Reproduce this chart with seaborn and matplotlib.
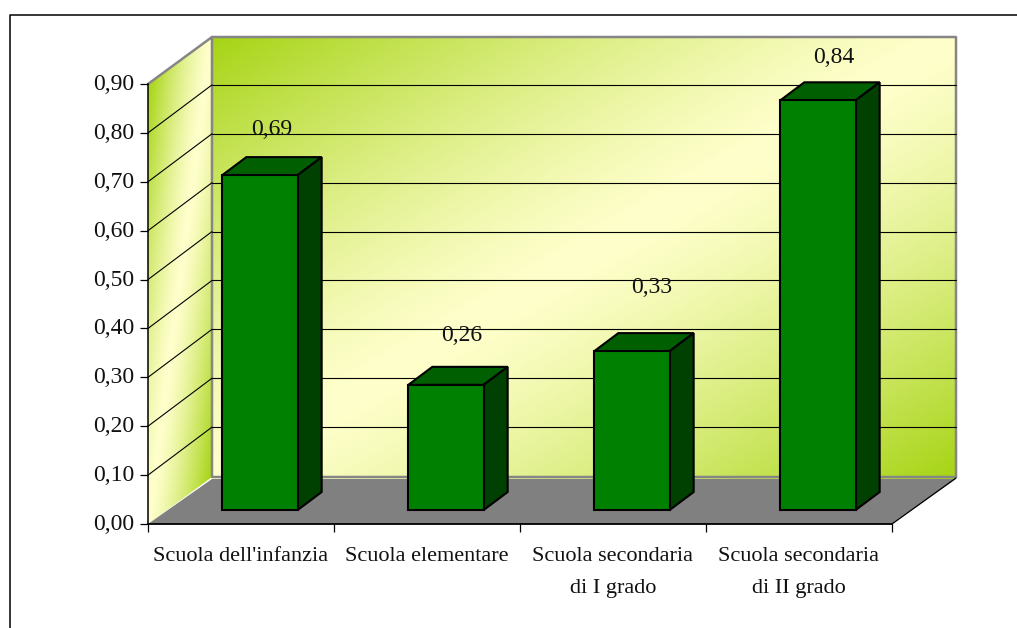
import numpy as np
import pandas as pd
import matplotlib.pyplot as plt
import seaborn as sns
from matplotlib.patches import Polygon
from matplotlib.transforms import Affine2D, IdentityTransform

# Values
categories = ["Scuola dell'infanzia", "Scuola elementare", "Scuola secondaria\ndi I grado", "Scuola secondaria\ndi II grado"]
values = [0.685, 0.256, 0.325, 0.838]
value_labels = ["0,69", "0,26", "0,33", "0,84"]
y_ticks = [0.0, 0.1, 0.2, 0.3, 0.4, 0.5, 0.6, 0.7, 0.8, 0.9]
y_tick_labels = ["0,00", "0,10", "0,20", "0,30", "0,40", "0,50", "0,60", "0,70", "0,80", "0,90"]

# label offsets from the top of each bar on the axis plane, in pixels
label_dx = [31, 35, 39, 35]
label_dy = [60, 63, 78, 57]

sns.set_style("white")
plt.rcParams['font.family'] = ['Liberation Serif', 'DejaVu Serif']

W, H = 1017, 628
green = np.array([166, 212, 20]) / 255
yellow = np.array([255, 255, 204]) / 255


def shade(u, v, power=1.3):
    # green in two opposite corners, pale yellow along the other diagonal
    s = np.clip(np.abs(u + v - 1), 0, 1) ** power
    return yellow + (green - yellow) * s[..., None]


fig = plt.figure(figsize=(W / 100, H / 100), dpi=100)

# background layer in pixel coordinates: walls, floor, frame
bg = fig.add_axes([0, 0, 1, 1])
u, v = np.meshgrid(np.linspace(0, 1, 372), np.linspace(0, 1, 221))
bg.imshow(shade(u, v), extent=(212, 956, 479, 37), aspect='auto', zorder=1)

# the side wall is skewed, so its gradient follows the slanted edges
u, py = np.meshgrid(np.linspace(0, 1, 64), np.linspace(37, 524, 244))
left = bg.imshow(shade(u, (py - 84 + 47 * u) / 440), extent=(148, 212, 524, 37), aspect='auto', zorder=1)
left.set_clip_path(Polygon([(148, 84), (212, 37), (212, 477), (148, 524)], transform=bg.transData))

bg.add_patch(Polygon([(148, 524), (212, 479), (956, 479), (892, 524)], fc='#808080', ec='none', zorder=2))
bg.plot([148, 212, 956, 956, 212, 212], [84, 37, 37, 477, 477, 37], color='#868686', lw=1.8, zorder=3)
bg.plot([892, 956], [524, 478], color='black', lw=0.9, zorder=3)
bg.plot([9.5, 9.5, W], [H, 14.5, 14.5], color='black', lw=1.1, zorder=3)
bg.set_xlim(0, W)
bg.set_ylim(H, 0)
bg.axis('off')

# front plane of the chart carries the real scales
ax = fig.add_axes([148 / W, 1 - 524 / H, 744 / W, 440 / H])
ax.patch.set_alpha(0)

df = pd.DataFrame({'categoria': categories, 'valore': values})
sns.barplot(data=df, x='categoria', y='valore', ax=ax, color='#008000', saturation=1,
            width=0.405, edgecolor='black', linewidth=1.5, zorder=5)

ax.set_xlim(-0.5, 3.5)
ax.set_ylim(0, 0.9)
ax.set_xlabel('')
ax.set_ylabel('')

ax.set_yticks(y_ticks)
ax.set_yticklabels(y_tick_labels, fontsize=17, color='#111111')
ax.set_xticks(range(len(categories)))
ax.set_xticklabels(categories, fontsize=16, color='#111111', linespacing=1.9)
ax.set_xticks(np.arange(-0.5, 4), minor=True)
ax.tick_params(axis='x', which='major', length=0, pad=16.5)
ax.tick_params(axis='x', which='minor', length=6, width=0.9, color='black', bottom=True)
ax.tick_params(axis='y', length=6, width=0.9, color='black', left=True, pad=3.6)

for label in ax.get_yticklabels():
    label.set_transform(label.get_transform() + Affine2D().translate(0, 2))

for side in ['top', 'right']:
    ax.spines[side].set_visible(False)
ax.spines['left'].set_linewidth(1.1)
ax.spines['bottom'].set_linewidth(1.3)
ax.spines['left'].set_color('black')
ax.spines['bottom'].set_color('black')

# gridlines on the back wall and the side wall
wall = ax.transData + Affine2D().translate(64, 48)
for tick in y_ticks[1:-1]:
    ax.plot([-0.5, 3.5], [tick, tick], transform=wall, color='black', lw=0.8, clip_on=False, zorder=1)
    x0, y0 = ax.transData.transform((-0.5, tick))
    ax.plot([x0, x0 + 64], [y0, y0 + 48], transform=IdentityTransform(), color='black', lw=0.8,
            clip_on=False, zorder=1)

# move the bars back from the axis plane and add top and side faces
front = Affine2D().translate(19, 14)
for bar in list(ax.patches):
    bar.set_transform(ax.transData + front)
    bar.set_clip_on(False)
    x0, y0 = (ax.transData + front).transform((bar.get_x(), 0))
    x1, y1 = (ax.transData + front).transform((bar.get_x() + bar.get_width(), bar.get_height()))
    top = [(x0, y1), (x0 + 24, y1 + 18), (x1 + 24, y1 + 18), (x1, y1)]
    right = [(x1, y1), (x1 + 24, y1 + 18), (x1 + 24, y0 + 18), (x1, y0)]
    ax.add_patch(Polygon(top, transform=IdentityTransform(), fc='#005f00', ec='black', lw=1.5,
                         clip_on=False, zorder=4))
    ax.add_patch(Polygon(right, transform=IdentityTransform(), fc='#004000', ec='black', lw=1.5,
                         clip_on=False, zorder=4))

for i, (val, text) in enumerate(zip(values, value_labels)):
    ax.annotate(text, xy=(i, val), xytext=(label_dx[i] * 0.72, label_dy[i] * 0.72), textcoords='offset points',
                ha='center', va='center', fontsize=17, color='#111111', zorder=6)

fig.savefig('out.png', dpi=100)
